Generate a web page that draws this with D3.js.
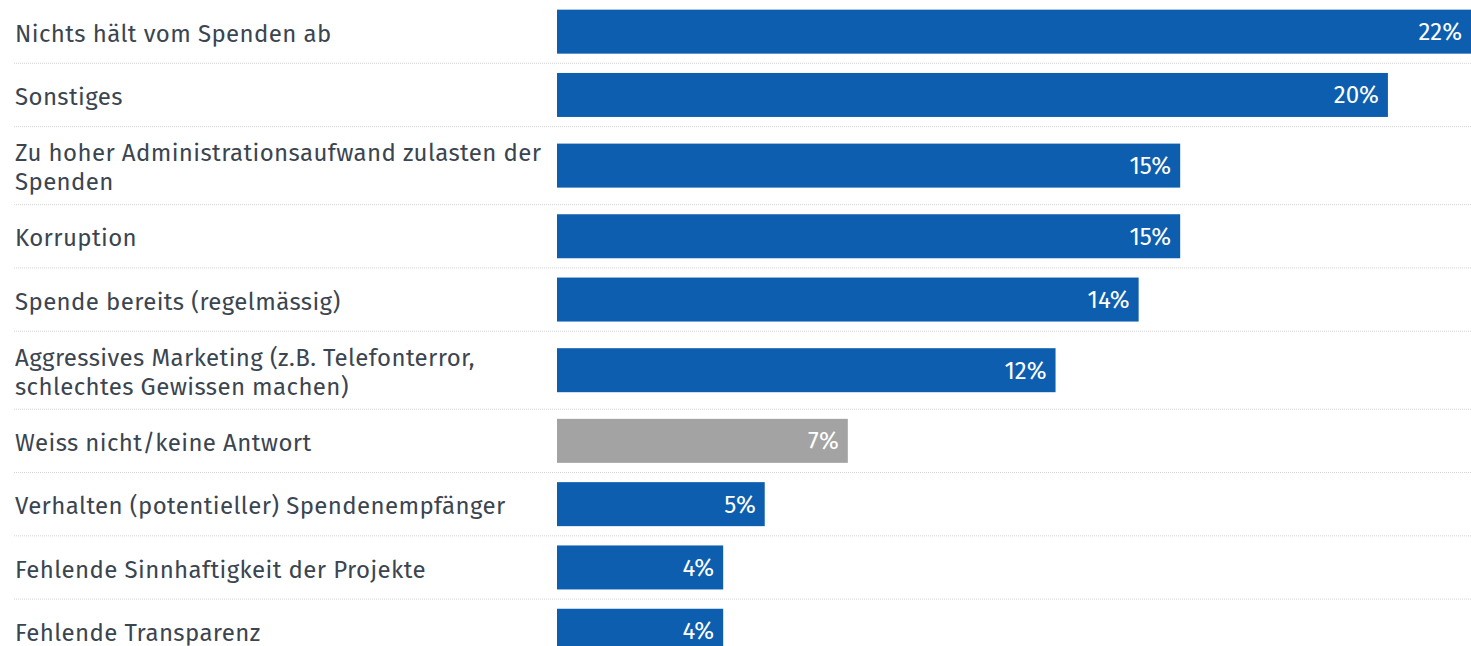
<!DOCTYPE html>
<html>
<head>
<meta charset="utf-8">
<script src="https://cdn.jsdelivr.net/npm/d3@7"></script>
<style>
  html, body { margin: 0; padding: 0; background: #fff; overflow: hidden; }
  text { font-family: "Fira Sans", Roboto, "Noto Sans", sans-serif; }
</style>
</head>
<body>
<svg id="chart" width="1471" height="646"></svg>
<script>
// label lines per category (two-line labels wrap as in the original)
var categories = [
    ["Nichts hält vom Spenden ab"],
    ["Sonstiges"],
    ["Zu hoher Administrationsaufwand zulasten der", "Spenden"],
    ["Korruption"],
    ["Spende bereits (regelmässig)"],
    ["Aggressives Marketing (z.B. Telefonterror,", "schlechtes Gewissen machen)"],
    ["Weiss nicht/keine Antwort"],
    ["Verhalten (potentieller) Spendenempfänger"],
    ["Fehlende Sinnhaftigkeit der Projekte"],
    ["Fehlende Transparenz"]
];
var values = [22, 20, 15, 15, 14, 12, 7, 5, 4, 4];
var neutral = [false, false, false, false, false, false, true, false, false, false];

var width = 1471, height = 646;
var barLeft = 557, barH = 44;
var rowSingle = 63.3, rowDouble = 78;
var lineH = 29;

var svg = d3.select("#chart");

var rows = [];
var rowTop = 0;
categories.forEach(function (lines, i) {
    var h = lines.length > 1 ? rowDouble : rowSingle;
    rows.push({ lines: lines, value: values[i], neutral: neutral[i], top: rowTop, h: h });
    rowTop += h;
});

var x = d3.scaleLinear()
    .domain([0, d3.max(values)])
    .range([barLeft, width]);

var row = svg.append("g")
    .attr("class", "rows")
    .selectAll("g")
    .data(rows)
    .enter().append("g")
    .attr("transform", function (d) { return "translate(0," + d.top + ")"; });

// dotted separators
row.append("line")
    .attr("x1", 14)
    .attr("x2", width)
    .attr("y1", function (d) { return d.h; })
    .attr("y2", function (d) { return d.h; })
    .attr("stroke", "#d4d4d4")
    .attr("stroke-width", 1)
    .attr("stroke-dasharray", "1,1");

row.append("rect")
    .attr("x", x(0))
    .attr("y", function (d) { return (d.h - barH) / 2; })
    .attr("width", function (d) { return x(d.value) - x(0); })
    .attr("height", barH)
    .attr("fill", function (d) { return d.neutral ? "#a3a3a3" : "#0d5eaf"; });

row.append("text")
    .attr("x", function (d) { return x(d.value) - 9; })
    .attr("y", function (d) { return d.h / 2; })
    .attr("dy", "0.35em")
    .attr("text-anchor", "end")
    .attr("fill", "#fff")
    .style("font-size", "24px")
    .text(function (d) { return d.value + "%"; });

var label = row.append("text")
    .attr("x", 15)
    .attr("fill", "#3b4550")
    .style("font-size", "24px")
    .style("letter-spacing", "0.4px");

label.selectAll("tspan")
    .data(function (d) {
        return d.lines.map(function (t, j) {
            return { t: t, y: d.h / 2 + (j - (d.lines.length - 1) / 2) * lineH };
        });
    })
    .enter().append("tspan")
    .attr("x", 15)
    .attr("y", function (d) { return d.y; })
    .attr("dy", "0.42em")
    .text(function (d) { return d.t; });
</script>
</body>
</html>
